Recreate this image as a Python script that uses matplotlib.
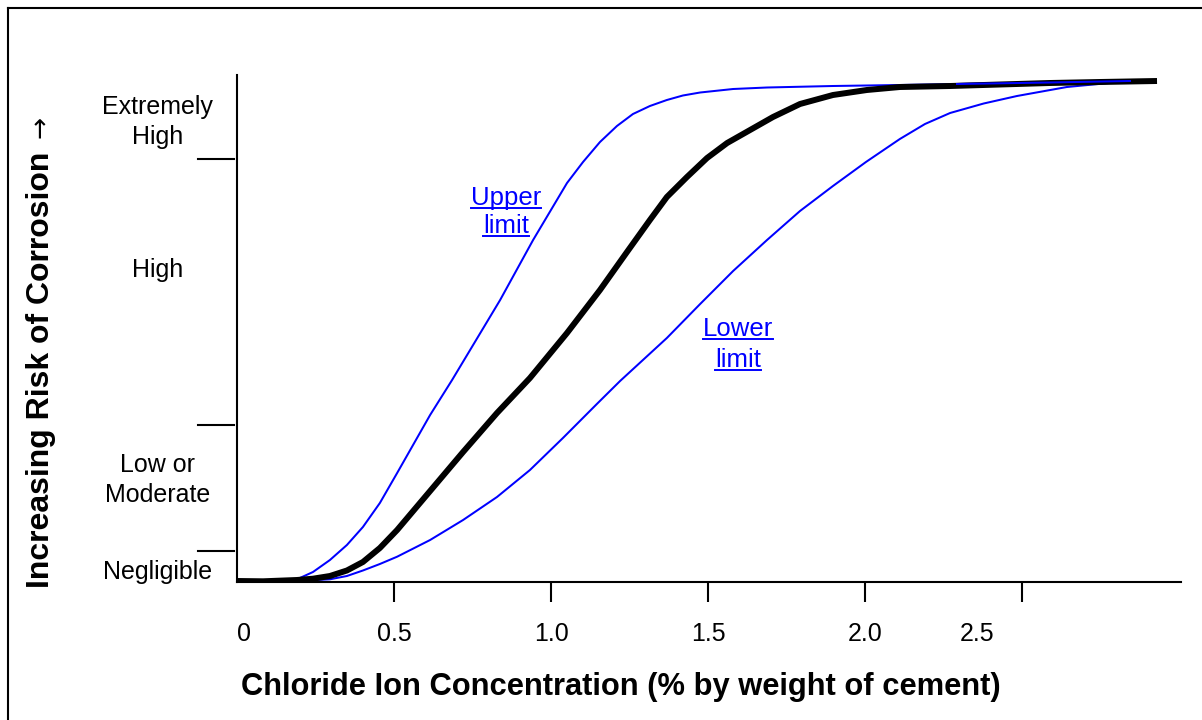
import matplotlib.pyplot as plt
from matplotlib.lines import Line2D

plt.rcParams['font.family'] = ['Liberation Sans', 'DejaVu Sans']

# chloride (% by weight of cement) vs. relative corrosion risk
mid_x = [0.000, 0.083, 0.191, 0.242, 0.296, 0.350, 0.401, 0.455, 0.510, 0.615,
         0.720, 0.828, 0.933, 1.051, 1.156, 1.242, 1.315, 1.369, 1.433, 1.497,
         1.561, 1.634, 1.707, 1.793, 1.898, 2.006, 2.111, 2.271, 2.430, 2.589,
         2.748, 2.930]
mid_y = [0.2, 0.14, 0.4, 0.66, 1.2, 2.3, 4.0, 6.8, 10.4, 18.2,
         26.0, 33.8, 40.8, 49.8, 58.4, 66.0, 72.4, 77.0, 81.0, 84.8,
         87.8, 90.4, 93.0, 95.6, 97.4, 98.4, 99.0, 99.2, 99.5, 99.8,
         100.0, 100.2]

upper_x = [0.000, 0.083, 0.191, 0.242, 0.296, 0.350, 0.401, 0.455, 0.510, 0.615,
           0.685, 0.838, 0.943, 1.051, 1.102, 1.156, 1.210, 1.261, 1.315, 1.369,
           1.420, 1.475, 1.580, 1.688, 1.898, 2.111, 2.293, 2.589, 2.844]
upper_y = [0.3, 0.3, 0.54, 2.0, 4.4, 7.4, 11.0, 15.8, 21.8, 33.4,
           40.4, 56.4, 68.4, 79.8, 84.0, 88.0, 91.2, 93.6, 95.2, 96.4,
           97.3, 97.9, 98.6, 98.9, 99.2, 99.4, 99.6, 99.9, 100.2]

lower_x = [0.000, 0.083, 0.191, 0.296, 0.350, 0.401, 0.455, 0.510, 0.615, 0.720,
           0.828, 0.933, 1.038, 1.146, 1.220, 1.369, 1.475, 1.580, 1.688, 1.793,
           1.898, 2.003, 2.111, 2.191, 2.271, 2.378, 2.484, 2.643, 2.844]
lower_y = [0.3, 0.2, 0.2, 0.54, 1.2, 2.3, 3.6, 5.06, 8.4, 12.4,
           17.0, 22.4, 28.8, 35.6, 40.2, 48.8, 55.6, 62.2, 68.4, 74.2,
           79.2, 84.0, 88.6, 91.6, 93.8, 95.7, 97.2, 99.0, 100.2]

x_ticks = [0.5, 1.0, 1.5, 2.0, 2.5]
x_label_pos = [0.022, 0.5, 1.0, 1.5, 2.0, 2.357]
x_labels = ['0', '0.5', '1.0', '1.5', '2.0', '2.5']

risk_bounds = [6.2, 31.4, 84.6]
risk_label_pos = [2.0, 20.4, 62.4, 92.0]
risk_labels = ['Negligible', 'Low or\nModerate', 'High', 'Extremely\nHigh']

W, H = 1202, 720
fig = plt.figure(figsize=(W / 100, H / 100), dpi=100)
ax = fig.add_axes([237 / W, (H - 582) / H, (1181 - 237) / W, (582 - 75) / H])

blue = '#0000ff'
ax.plot(upper_x, upper_y, color=blue, lw=1.45, zorder=2)
ax.plot(lower_x, lower_y, color=blue, lw=1.45, zorder=2)
ax.plot(mid_x, mid_y, color='black', lw=4.3, zorder=3, solid_capstyle='butt')
# the upper limit shows on top of the black line along the plateau
ax.plot(upper_x[-3:], upper_y[-3:], color=blue, lw=1.45, zorder=4)

ax.set_xlim(0, (1181 - 237) / 314)
ax.set_ylim(0, (582 - 75) / 5)

for s in ['top', 'right']:
    ax.spines[s].set_visible(False)
for s in ['left', 'bottom']:
    ax.spines[s].set_linewidth(1.5)

ax.xaxis.remove_overlapping_locs = False
ax.set_xticks(x_ticks)
ax.set_xticklabels([])
ax.tick_params(axis='x', which='major', direction='out', length=14.5, width=1.5)
ax.set_xticks(x_label_pos, minor=True)
ax.set_xticklabels(x_labels, minor=True, fontsize=18)
ax.tick_params(axis='x', which='minor', length=0, pad=29)

ax.set_yticks([])
for b in risk_bounds:
    ax.plot([-0.125, -0.01], [b, b], color='black', lw=1.5, clip_on=False)
for pos, lab in zip(risk_label_pos, risk_labels):
    ax.text(-0.252, pos, lab, ha='center', va='center', fontsize=18,
            linespacing=1.32, clip_on=False)

fig.text(621 / W, 1 - 687 / H, 'Chloride Ion Concentration (% by weight of cement)',
         ha='center', va='center', fontsize=22.2, fontweight='bold')
fig.text(41 / W, 1 - 370 / H, 'Increasing Risk of Corrosion',
         rotation=90, ha='center', va='center', fontsize=23, fontweight='bold')
fig.text(41 / W, 1 - 127 / H, '\u2192', family='DejaVu Sans',
         rotation=90, ha='center', va='center', fontsize=19)

# underlined curve labels, placed on their baselines
notes = [(0.857, 75.4, 'Upper'), (0.857, 69.8, 'limit'),
         (1.596, 49.2, 'Lower'), (1.596, 43.0, 'limit')]
fig.canvas.draw()
renderer = fig.canvas.get_renderer()
for nx, ny, word in notes:
    t = ax.text(nx, ny, word, ha='center', va='baseline', color=blue, fontsize=18.5)
    bb = t.get_window_extent(renderer)
    base = ax.transData.transform((nx, ny))[1] - 3
    x0, y0 = fig.transFigure.inverted().transform((bb.x0, base))
    x1, _ = fig.transFigure.inverted().transform((bb.x1, base))
    fig.add_artist(Line2D([x0, x1], [y0, y0], transform=fig.transFigure,
                          color=blue, lw=1.4))

# frame around the chart
fig.add_artist(Line2D([8 / W, 8 / W], [0, 1 - 8 / H],
                      transform=fig.transFigure, color='black', lw=1.5))
fig.add_artist(Line2D([8 / W, 1], [1 - 8 / H, 1 - 8 / H],
                      transform=fig.transFigure, color='black', lw=1.5))

fig.savefig('out.png', dpi=100)
